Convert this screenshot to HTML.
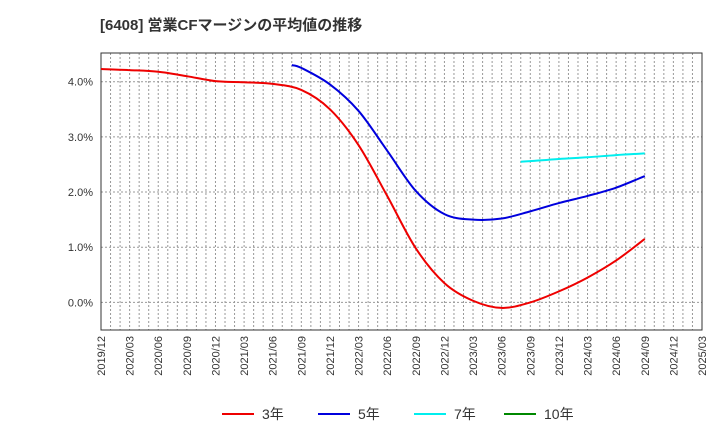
<!DOCTYPE html>
<html><head><meta charset="utf-8"><style>
body{margin:0;background:#fff;font-family:"Liberation Sans","Noto Sans CJK JP",sans-serif}
</style></head><body>
<svg id="c" width="720" height="440" xmlns="http://www.w3.org/2000/svg" style="font-family:'Liberation Sans','Noto Sans CJK JP',sans-serif"></svg>
<script>
const xLabels=["2019/12","2020/03","2020/06","2020/09","2020/12","2021/03","2021/06","2021/09","2021/12","2022/03","2022/06","2022/09","2022/12","2023/03","2023/06","2023/09","2023/12","2024/03","2024/06","2024/09","2024/12","2025/03"];
const yTicks=[0,1,2,3,4];
const redMonths=[0,3,6,9,12,15,18,21,24,27,30,33,36,39,42,45,48,51,54,57];
const redVals=[4.23,4.21,4.18,4.10,4.01,3.99,3.96,3.85,3.50,2.85,1.93,0.98,0.35,0.03,-0.10,0.00,0.20,0.45,0.76,1.15];
const blueMonths=[20,21,24,27,30,33,36,39,42,45,48,51,54,57];
const blueVals=[4.30,4.25,3.95,3.47,2.75,2.02,1.60,1.50,1.52,1.65,1.80,1.93,2.08,2.29];
const cyanMonths=[44,45,48,51,54,57];
const cyanVals=[2.55,2.56,2.60,2.63,2.67,2.70];
const svg=document.getElementById('c');const NS='http://www.w3.org/2000/svg';
const L=101,R=702,T=53,B=330,yMin=-0.5,yMax=4.52;
const xs=m=>L+(R-L)*m/63, ys=v=>B-(v-yMin)/(yMax-yMin)*(B-T);
function mk(t,a,p){const e=document.createElementNS(NS,t);for(const k in a)e.setAttribute(k,a[k]);(p||svg).appendChild(e);return e;}
let t=mk('text',{x:100,y:30,'font-size':15,'font-weight':'bold',fill:'#333'});t.textContent='[6408]  営業CFマージンの平均値の推移';


for(let m=1;m<63;m++){let g=mk('line',{x1:xs(m),x2:xs(m),y1:T,y2:B,stroke:'#999','stroke-dasharray':'2,2','stroke-width':1});

}
yTicks.forEach(v=>{let g=mk('line',{x1:L,x2:R,y1:ys(v),y2:ys(v),stroke:'#999','stroke-dasharray':'2,2'});


let tx=mk('text',{x:L-8,y:ys(v)+4,'text-anchor':'end','font-size':11,fill:'#333'});tx.textContent=v.toFixed(1)+'%';

});
xLabels.forEach((s,i)=>{const x=xs(i*3);let tx=mk('text',{x:x+4,y:B+6,'text-anchor':'end','font-size':11,fill:'#333',transform:`rotate(-90 ${x+4} ${B+6})`});tx.textContent=s;

});
let fr=mk('rect',{x:L,y:T,width:R-L,height:B-T,fill:'none',stroke:'#333'});


function path(ms,vs){const p=ms.map((m,i)=>[xs(m),ys(vs[i])]);let d='M'+p[0];for(let i=0;i<p.length-1;i++){const p0=p[i-1]||p[i],p1=p[i],p2=p[i+1],p3=p[i+2]||p2;const c1=[p1[0]+(p2[0]-p0[0])/6,p1[1]+(p2[1]-p0[1])/6],c2=[p2[0]-(p3[0]-p1[0])/6,p2[1]-(p3[1]-p1[1])/6];d+=`C${c1} ${c2} ${p2}`;}return d;}
[[redMonths,redVals,'#e00','series-3y'],[blueMonths,blueVals,'#00d','series-5y'],[cyanMonths,cyanVals,'#0ee','series-7y']].forEach(s=>{let e=mk('path',{d:path(s[0],s[1]),fill:'none',stroke:s[2],'stroke-width':2});

});
[['3年','#e00',222],['5年','#00d',318],['7年','#0ee',414],['10年','#080',504]].forEach(l=>{const g=mk('g',{});


mk('line',{x1:l[2],x2:l[2]+32,y1:414,y2:414,stroke:l[1],'stroke-width':2},g);let tx=mk('text',{x:l[2]+40,y:419,'font-size':14,fill:'#333'},g);tx.textContent=l[0];});
</script></body></html>
